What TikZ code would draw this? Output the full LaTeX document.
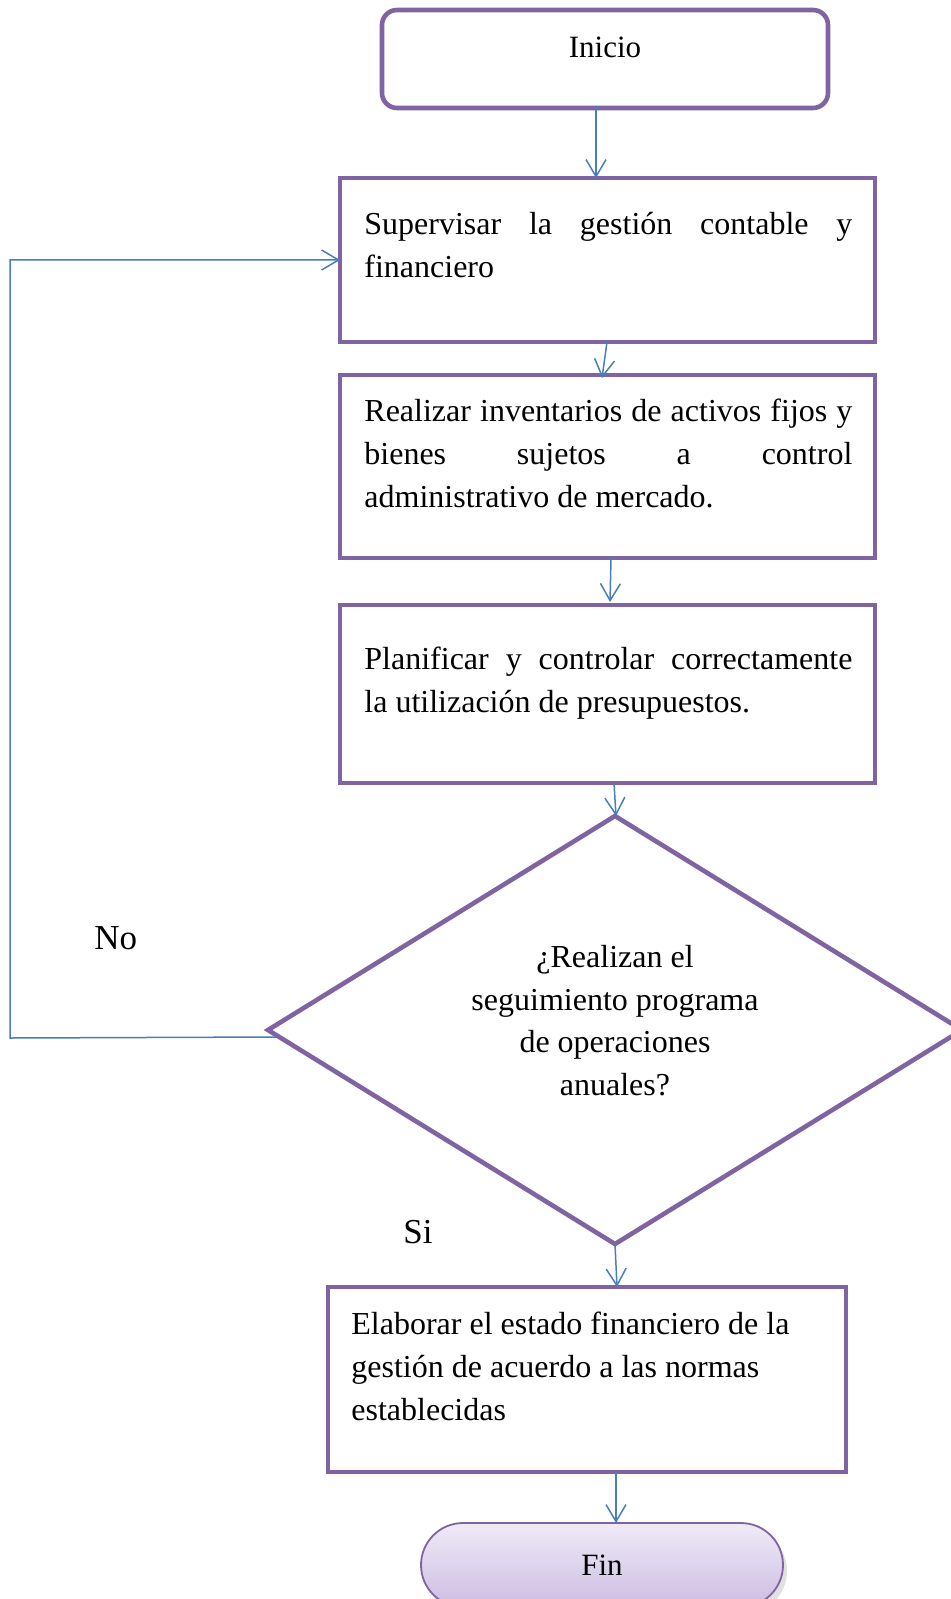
\documentclass[tikz,border=0pt]{standalone}
\usepackage{fontspec}
\setmainfont{Liberation Serif}
\usetikzlibrary{arrows.meta,shapes.geometric}
\definecolor{boxpurple}{HTML}{8064A2}
\definecolor{arrowblue}{HTML}{4A7EBB}
\definecolor{fintop}{HTML}{EFEAF7}
\definecolor{finbottom}{HTML}{CDBDE3}
\newcommand{\bodyfont}{\fontsize{16}{21.5}\selectfont}
\newcommand{\jline}[1]{\makebox[244pt][s]{#1}}
\tikzset{
  procbox/.style={draw=boxpurple, line width=2.3pt, rectangle, inner sep=0pt, outer sep=0pt},
  flowarrow/.style={draw=arrowblue, line width=0.75pt, -{Straight Barb[length=8.5pt,width=10pt,line width=0.75pt]}},
  textline/.style={inner sep=0pt, anchor=base west, font=\bodyfont},
  centerline/.style={inner sep=0pt, anchor=base, font=\bodyfont},
  answer/.style={inner sep=0pt, anchor=base west, font=\fontsize{17.5}{21}\selectfont}
}
\begin{document}
\begin{tikzpicture}[x=0.5pt,y=-0.5pt]
\useasboundingbox (0,0) rectangle (950,1599);

% start terminal
\node[procbox, rounded corners=7.5pt, minimum width=223pt, minimum height=49pt] (ini) at (605,59) {};
\node[inner sep=0pt, anchor=base, font=\fontsize{15.5}{19}\selectfont] (tini) at (605,58) {Inicio};

% process boxes
\node[procbox, minimum width=267.5pt, minimum height=82pt] (b2) at (607.5,260) {};
\node[procbox, minimum width=267.5pt, minimum height=91.5pt] (b3) at (607.5,466.5) {};
\node[procbox, minimum width=267.5pt, minimum height=89pt] (b4) at (607.5,694) {};
\node[procbox, minimum width=259pt, minimum height=92.5pt] (b5) at (587,1379.5) {};

% decision
\node[draw=boxpurple, line width=2.3pt, diamond, inner sep=0pt, outer sep=0pt,
      minimum width=347pt, minimum height=214pt] (dec) at (615,1030) {};

% end terminal
\fill[black, opacity=0.12, rounded corners=21pt] (425,1529) rectangle (787,1613);
\node[draw=boxpurple, line width=0.9pt, rectangle, rounded corners=21pt,
      top color=fintop, bottom color=finbottom, inner sep=0pt, outer sep=0pt,
      minimum width=181pt, minimum height=42pt] (fin) at (602,1565) {};
\node[inner sep=0pt, anchor=base, font=\fontsize{15.5}{19}\selectfont] (tfin) at (602,1575) {Fin};

% box texts
\node[textline] (t2a) at (364,235) {\jline{Supervisar la gestión contable y}};
\node[textline] (t2b) at (364,278) {financiero};

\node[textline] (t3a) at (364,421) {\jline{Realizar inventarios de activos fijos y}};
\node[textline] (t3b) at (364,464) {\jline{bienes sujetos a control}};
\node[textline] (t3c) at (364,507) {administrativo de mercado.};

\node[textline] (t4a) at (364,669) {\jline{Planificar y controlar correctamente}};
\node[textline] (t4b) at (364,712) {la utilización de presupuestos.};

\node[centerline] (tda) at (615,967) {¿Realizan el};
\node[centerline] (tdb) at (615,1010) {seguimiento programa};
\node[centerline] (tdc) at (615,1052) {de operaciones};
\node[centerline] (tdd) at (615,1095) {anuales?};

\node[textline] (t5a) at (351,1334) {Elaborar el estado financiero de la};
\node[textline] (t5b) at (351,1377) {gestión de acuerdo a las normas};
\node[textline] (t5c) at (351,1420) {establecidas};

% branch labels
\node[answer] (lno) at (94,949) {No};
\node[answer] (lsi) at (403,1243) {Si};

% connectors
\draw[flowarrow] ([xshift=-4.5pt]ini.south) -- ([xshift=-5.75pt]b2.north);
\draw[flowarrow] ([xshift=-0.25pt]b2.south) -- ([xshift=-2.75pt,yshift=-1.5pt]b3.north);
\draw[flowarrow] ([xshift=1.75pt]b3.south) -- ([xshift=1.25pt,yshift=1.5pt]b4.north);
\draw[flowarrow] ([xshift=3.25pt]b4.south) -- ([xshift=0.5pt]dec.north);
\draw[flowarrow] (dec.south) -- ([xshift=15pt]b5.north);
\draw[flowarrow] ([xshift=14.5pt]b5.south) -- ([xshift=7pt]fin.north);

\coordinate (loopfoot) at (10,1038);
\draw[flowarrow] ([xshift=4.5pt,yshift=-3.5pt]dec.west) -- (loopfoot) |- (b2.west);
\end{tikzpicture}
\end{document}
